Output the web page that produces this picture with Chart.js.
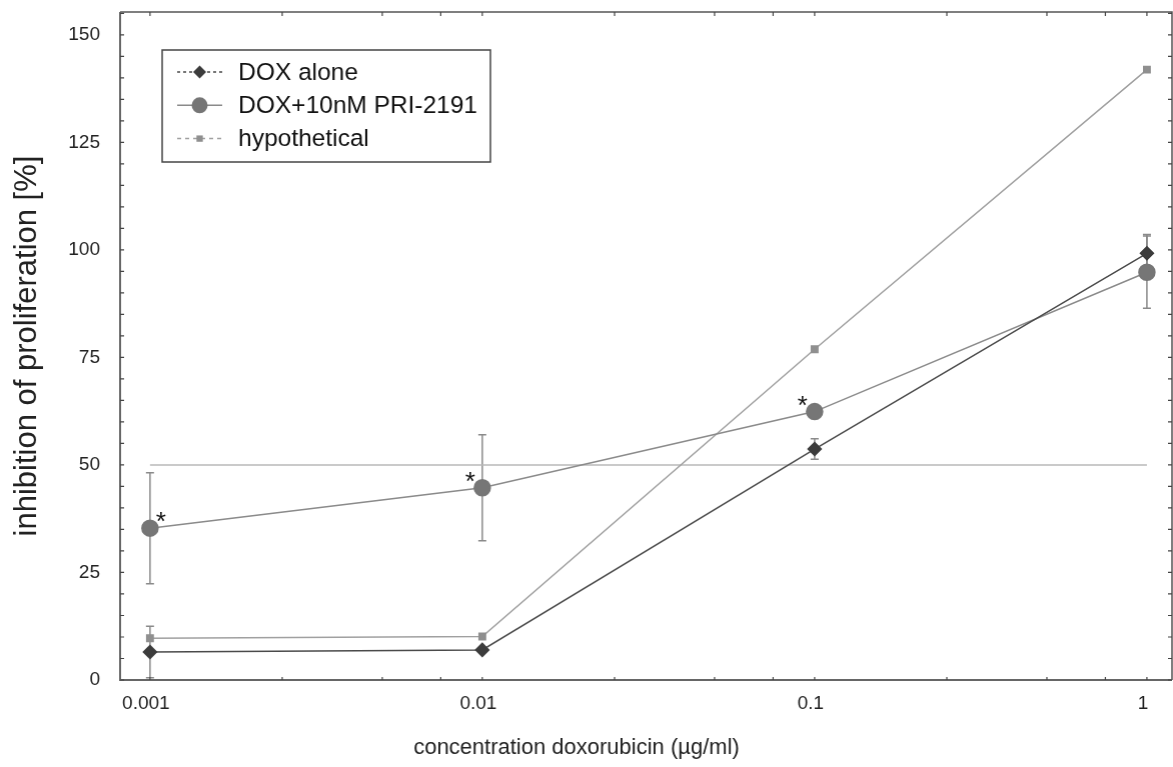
<!DOCTYPE html>
<html>
<head>
<meta charset="utf-8">
<script src="https://cdn.jsdelivr.net/npm/chart.js@4"></script>
<style>
html, body { margin: 0; padding: 0; background: #fff; overflow: hidden; }
#wrap { width: 1173px; height: 767px; position: relative; }
#myChart { display: block; }
</style>
</head>
<body>
<div id="wrap"><canvas id="myChart"></canvas></div>
<script>
// Values
const concentrations = [0.001, 0.01, 0.1, 1];
const doxAlone = [6.5, 7.0, 53.7, 99.2];
const doxAloneErr = [6.0, 0, 2.4, 4.4];
const doxPri = [35.3, 44.7, 62.4, 94.8];
const doxPriErr = [12.9, 12.3, 0, 8.4];
const hypothetical = [9.7, 10.1, 76.9, 141.9];
const halfLineX = [0.001, 1];
const halfLineY = [50, 50];
const significant = [true, true, true, false];

const xTickValues = [0.001, 0.01, 0.1, 1];
const xTickLabels = ['0.001', '0.01', '0.1', '1'];
const xMinorFactors = [2.5, 5, 7.5];
const yTickValues = [0, 25, 50, 75, 100, 125, 150];
const yMinorStep = 5;

const xTitle = 'concentration doxorubicin (µg/ml)';
const FONT = "'Liberation Sans', Arial, sans-serif";
const PLOT_RIGHT = 1171;

const toPoints = (xs, ys) => xs.map((v, i) => ({x: v, y: ys[i]}));

const datasets = [{
    label: 'DOX alone',
    data: toPoints(concentrations, doxAlone),
    borderColor: '#4a4a4a',
    backgroundColor: '#3c3c3c',
    pointBackgroundColor: '#3c3c3c',
    pointBorderColor: '#3c3c3c',
    pointStyle: 'rectRot',
    pointRadius: 6.5,
    borderWidth: 1.5,
    legendDash: [3, 3]
}, {
    label: 'DOX+10nM PRI-2191',
    data: toPoints(concentrations, doxPri),
    borderColor: '#8a8a8a',
    backgroundColor: '#767676',
    pointBackgroundColor: '#767676',
    pointBorderColor: '#767676',
    pointStyle: 'circle',
    pointRadius: 8,
    borderWidth: 1.5,
    legendDash: []
}, {
    label: 'hypothetical',
    data: toPoints(concentrations, hypothetical),
    borderColor: '#a0a0a0',
    backgroundColor: '#8f8f8f',
    pointBackgroundColor: '#8f8f8f',
    pointBorderColor: '#8f8f8f',
    pointStyle: 'rect',
    pointRadius: 4.5,
    borderWidth: 1.5,
    legendDash: [4, 4]
}, {
    label: '50%',
    data: toPoints(halfLineX, halfLineY),
    borderColor: '#b8b8b8',
    pointRadius: 0,
    borderWidth: 1.5,
    inLegend: false
}];

// small marker drawer for the legend
const drawMarker = (ctx, style, x, y, r, color) => {
    ctx.fillStyle = color;
    ctx.beginPath();
    if (style === 'circle') {
        ctx.arc(x, y, r, 0, Math.PI * 2);
    } else if (style === 'rectRot') {
        ctx.moveTo(x, y - r); ctx.lineTo(x + r, y); ctx.lineTo(x, y + r); ctx.lineTo(x - r, y);
        ctx.closePath();
    } else {
        const s = r * Math.SQRT1_2;
        ctx.rect(x - s, y - s, 2 * s, 2 * s);
    }
    ctx.fill();
};

const figureExtras = {
    id: 'figureExtras',
    beforeDatasetsDraw(chart) {
        const {ctx, scales: {x, y}} = chart;
        ctx.save();
        ctx.strokeStyle = '#8a8a8a';
        ctx.lineWidth = 1.5;
        [[doxAlone, doxAloneErr], [doxPri, doxPriErr]].forEach(([vals, errs]) => {
            concentrations.forEach((c, i) => {
                if (!errs[i]) return;
                const px = x.getPixelForValue(c);
                const top = y.getPixelForValue(vals[i] + errs[i]);
                const bot = y.getPixelForValue(vals[i] - errs[i]);
                ctx.beginPath();
                ctx.moveTo(px, top); ctx.lineTo(px, bot);
                ctx.moveTo(px - 4, top); ctx.lineTo(px + 4, top);
                ctx.moveTo(px - 4, bot); ctx.lineTo(px + 4, bot);
                ctx.stroke();
            });
        });
        ctx.restore();
    },
    afterDraw(chart) {
        const {ctx, chartArea: a, scales: {x, y}} = chart;
        ctx.save();

        // frame
        ctx.strokeStyle = '#555';
        ctx.lineWidth = 1.5;
        ctx.beginPath();
        ctx.moveTo(a.left, a.top); ctx.lineTo(a.right, a.top); ctx.lineTo(a.right, a.bottom);
        ctx.stroke();
        ctx.strokeStyle = '#666';
        ctx.lineWidth = 2;
        ctx.beginPath();
        ctx.moveTo(a.left, a.top); ctx.lineTo(a.left, a.bottom); ctx.lineTo(a.right, a.bottom);
        ctx.stroke();

        // inner ticks
        ctx.strokeStyle = '#444';
        ctx.lineWidth = 1.2;
        ctx.beginPath();
        for (let v = 0; v <= y.max; v += yMinorStep) {
            const py = y.getPixelForValue(v);
            ctx.moveTo(a.left, py); ctx.lineTo(a.left + 4, py);
            ctx.moveTo(a.right, py); ctx.lineTo(a.right - 4, py);
        }
        xTickValues.forEach((d, k) => {
            const marks = [d];
            if (k < xTickValues.length - 1) xMinorFactors.forEach(f => marks.push(d * f));
            marks.forEach(m => {
                const px = x.getPixelForValue(m);
                ctx.moveTo(px, a.bottom); ctx.lineTo(px, a.bottom - 3);
                ctx.moveTo(px, a.top); ctx.lineTo(px, a.top + 4);
            });
        });
        ctx.stroke();

        // significance asterisks
        ctx.fillStyle = '#111';
        ctx.font = '26px ' + FONT;
        ctx.textAlign = 'center';
        ctx.textBaseline = 'alphabetic';
        significant.forEach((s, i) => {
            if (!s) return;
            const px = x.getPixelForValue(concentrations[i]);
            const py = y.getPixelForValue(doxPri[i]);
            const dx = i === 0 ? 11 : -12;
            ctx.fillText('*', px + dx, py - 13 + 15);
        });

        // x axis title (sits left of the plot centre in the original)
        ctx.font = '22px ' + FONT;
        ctx.fillStyle = '#222';
        ctx.textBaseline = 'middle';
        ctx.fillText(xTitle, 576, 748);

        // legend
        const lx = 162, ly = 50, lw = 328, lh = 112;
        ctx.strokeStyle = '#444';
        ctx.lineWidth = 1.5;
        ctx.strokeRect(lx, ly, lw, lh);
        const shown = chart.data.datasets.filter(d => d.inLegend !== false);
        ctx.font = '24.5px ' + FONT;
        ctx.textAlign = 'left';
        ctx.textBaseline = 'middle';
        shown.forEach((d, i) => {
            const ry = ly + 22 + i * 33.3;
            ctx.strokeStyle = d.borderColor;
            ctx.lineWidth = 1.5;
            ctx.setLineDash(d.legendDash);
            ctx.beginPath();
            ctx.moveTo(lx + 15, ry); ctx.lineTo(lx + 60, ry);
            ctx.stroke();
            ctx.setLineDash([]);
            drawMarker(ctx, d.pointStyle, lx + 37.5, ry, d.pointRadius, d.pointBackgroundColor);
            ctx.fillStyle = '#111';
            ctx.fillText(d.label, lx + 76, ry + 1);
        });
        ctx.restore();
    }
};

const ctx = document.getElementById('myChart').getContext('2d');
const myChart = new Chart(ctx, {
    type: 'line',
    data: {datasets: datasets},
    options: {
        responsive: true,
        maintainAspectRatio: false,
        animation: false,
        layout: {padding: {top: 12, right: 2, left: 0, bottom: 0}},
        plugins: {
            legend: {display: false},
            tooltip: {enabled: false}
        },
        scales: {
            x: {
                type: 'logarithmic',
                min: 0.000813,
                max: 1.19,
                grid: {display: false, drawTicks: false},
                border: {display: false},
                afterBuildTicks: s => { s.ticks = xTickValues.map(v => ({value: v})); },
                afterFit: s => {
                    s.height = 87;
                    s.paddingLeft = 0; s.paddingRight = 0;
                },
                ticks: {
                    callback: (v, i) => xTickLabels[i],
                    font: {family: FONT, size: 19},
                    color: '#222',
                    padding: 12,
                    labelOffset: -4,
                    maxRotation: 0,
                    autoSkip: false
                }
            },
            y: {
                min: 0,
                max: 155.3,
                grid: {display: false, drawTicks: false},
                border: {display: false},
                afterBuildTicks: s => { s.ticks = yTickValues.map(v => ({value: v})); },
                afterFit: s => {
                    s.width = 120;
                    s.paddingTop = 0; s.paddingBottom = 0;
                },
                ticks: {
                    font: {family: FONT, size: 19},
                    color: '#222',
                    padding: 20
                },
                title: {
                    display: true,
                    text: 'inhibition of proliferation [%]',
                    font: {family: FONT, size: 31},
                    color: '#222',
                    padding: {top: 9, bottom: 0}
                }
            }
        }
    },
    plugins: [figureExtras]
});

// the layout keeps some right padding for the last x label; widen the canvas
// so that the plot frame ends where it does in the original
const gap = PLOT_RIGHT - myChart.chartArea.right;
if (Math.abs(gap) > 0.5) {
    document.getElementById('wrap').style.width = (1173 + gap) + 'px';
    myChart.resize();
}
</script>
</body>
</html>
